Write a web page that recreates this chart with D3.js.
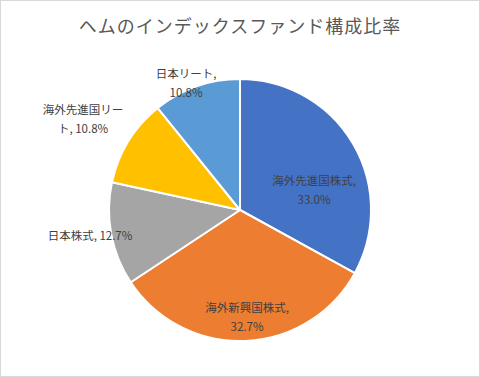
<!DOCTYPE html>
<html>
<head>
<meta charset="utf-8">
<script src="https://cdn.jsdelivr.net/npm/d3@7"></script>
<style>
  body { margin: 0; background: #fff; }
  svg { display: block; }
</style>
</head>
<body>
<svg id="chart"></svg>
<script>
// chart data
var categories = ["海外先進国株式", "海外新興国株式", "日本株式", "海外先進国リート", "日本リート"];
var values = [33.0, 32.7, 12.7, 10.8, 10.8];
var colors = ["#4472C4", "#ED7D31", "#A5A5A5", "#FFC000", "#5B9BD5"];
var title = "ヘムのインデックスファンド構成比率";

var dimensions = { width: 480, height: 377 };
var cx = 240, cy = 210, radius = 131;

// label lines per slice and where they sit relative to the pie centre
var labelLines = [
    [categories[0] + ",", values[0].toFixed(1) + "%"],
    [categories[1] + ",", values[1].toFixed(1) + "%"],
    [categories[2] + ", " + values[2].toFixed(1) + "%"],
    ["海外先進国リー", "ト, " + values[3].toFixed(1) + "%"],
    [categories[4] + ",", values[4].toFixed(1) + "%"]
];
var labelOffsets = [[74, -20], [7, 107], [-150, 26], [-157, -91], [-54, -127]];

var svg = d3.select("#chart")
    .attr("width", dimensions.width)
    .attr("height", dimensions.height)
    .style("font-family", "'Noto Sans CJK JP', 'Noto Sans', sans-serif");

svg.append("rect")
    .attr("x", 0.5)
    .attr("y", 0.5)
    .attr("width", dimensions.width - 1)
    .attr("height", dimensions.height - 1)
    .attr("fill", "#fff")
    .attr("stroke", "#d9d9d9");

svg.append("text")
    .attr("x", dimensions.width / 2)
    .attr("y", 33)
    .attr("text-anchor", "middle")
    .attr("fill", "#595959")
    .style("font-size", "18px")
    .style("letter-spacing", "1px")
    .text(title);

var pie = d3.pie().sort(null).value(d => d);
var arc = d3.arc().innerRadius(0).outerRadius(radius);
var arcs = pie(values);

var g = svg.append("g").attr("transform", `translate(${cx},${cy})`);

g.selectAll("path")
    .data(arcs)
    .enter()
    .append("path")
    .attr("d", arc)
    .attr("fill", (d, i) => colors[i])
    .attr("stroke", "#fff")
    .attr("stroke-width", 2)
    .attr("stroke-linejoin", "round");

var labels = g.selectAll("text.lbl")
    .data(arcs)
    .enter()
    .append("text")
    .attr("class", "lbl")
    .attr("text-anchor", "middle")
    .attr("fill", "#404040")
    .style("font-size", "11.5px");

labels.each(function(d, i) {
    var lines = labelLines[i];
    var off = labelOffsets[i];
    var t = d3.select(this);
    lines.forEach(function(line, j) {
        t.append("tspan")
            .attr("x", off[0])
            .attr("y", off[1] + j * 19 - (lines.length - 1) * 19 / 2 + 4)
            .text(line);
    });
});
</script>
</body>
</html>
